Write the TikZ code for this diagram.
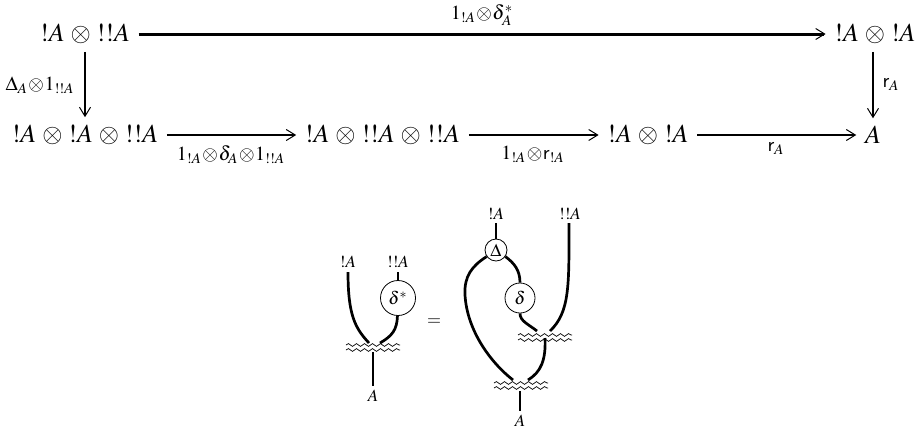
\documentclass[tikz,border=0pt]{standalone}
\usepackage{amsmath}
\usepackage{mathptmx}
\usetikzlibrary{arrows.meta,decorations.pathmorphing}
\newcommand{\tens}{\mathbin{\mkern1.6mu\otimes\mkern1.6mu}}
\tikzset{
  obj/.style={font=\fontsize{13}{15}\selectfont,inner xsep=4.2pt,inner ysep=3.8pt},
  lab/.style={font=\fontsize{10}{12}\selectfont,inner sep=0pt},
  wirelab/.style={font=\fontsize{8.5}{10}\selectfont,inner sep=0pt},
  arr/.style={-{Straight Barb[length=4.5pt,width=5.5pt,line width=0.5pt]},line width=0.8pt},
  wire/.style={line width=1.35pt},
  gate/.style={circle,draw,line width=0.4pt,fill=white,inner sep=0pt,font=\fontsize{9}{11}\selectfont},
  wave/.style={line width=0.35pt,decorate,decoration={snake,amplitude=0.7pt,segment length=4pt}}
}
\begin{document}
\begin{tikzpicture}[x=0.5pt,y=-0.5pt]
\useasboundingbox (0,0) rectangle (921,430);
% Top row of the square
\node[obj] (tl) at (85,34) {$!A\tens{!!A}$};
\node[obj] (tr) at (875,34) {$!A\tens{!A}$};
% Bottom row of the square
\node[obj] (bone) at (85,135) {$!A\tens{!A}\tens{!!A}$};
\node[obj] (btwo) at (382.5,135) {$!A\tens{!!A}\tens{!!A}$};
\node[obj] (bthree) at (648,135) {$!A\tens{!A}$};
\node[obj] (bfour) at (873,135) {$A$};
% Arrows
\draw[arr,line width=1.5pt] (tl) -- (tr);
\draw[arr] (tl) -- (bone);
\draw[arr] (bfour |- tr.south) -- (bfour);
\draw[arr] (bone) -- (btwo);
\draw[arr] (btwo) -- (bthree);
\draw[arr] (bthree) -- (bfour);
% Label the arrows
\node[lab] (ltop) at (482,15) {$1_{!A}\!\otimes\!\delta_A^*$};
\node[lab] (lleft) at (40,85) {$\Delta_A\!\otimes\!1_{!!A}$};
\node[lab] (lright) at (891,85) {$\mathsf{r}_A$};
\node[lab] (lone) at (231,155) {$1_{!A}\!\otimes\!\delta_A\!\otimes\!1_{!!A}$};
\node[lab] (ltwo) at (533,154) {$1_{!A}\!\otimes\!\mathsf{r}_{!A}$};
\node[lab] (lthree) at (776,149) {$\mathsf{r}_A$};
% Left string diagram
\node[wirelab] (pa) at (348,262) {$!A$};
\node[wirelab] (ppa) at (398,262) {$!!A$};
\node[gate,minimum size=17.5pt] (dstar) at (398,298) {$\delta^*$};
\node[wirelab] (oa) at (373,396) {$A$};
\draw[wave] (346,345) -- (400,345);
\draw[wave] (346,350) -- (400,350);
\coordinate (pat) at (348,272);
\coordinate (ppat) at (398,272);
\coordinate (ml) at (369,343);
\coordinate (mr) at (380,343);
\coordinate (mb) at (373,352);
\coordinate (oat) at (373,386);
\draw[wire] (pat) .. controls (348,315) and (355,328) .. (ml);
\draw[wire] (ppat) -- (dstar);
\draw[wire] (dstar) .. controls (397,330) and (392,336) .. (mr);
\draw[wire] (mb) -- (oat);
\node[lab,font=\fontsize{9}{11}\selectfont] (eq) at (434,322) {$=$};
% Right string diagram
\node[wirelab] (qa) at (496,214) {$!A$};
\node[wirelab] (qqa) at (570,214) {$!!A$};
\node[gate,minimum size=11pt] (cop) at (496,250) {$\Delta$};
\node[gate,minimum size=15pt] (del) at (520,298) {$\delta$};
\node[wirelab] (ra) at (520,421) {$A$};
\draw[wave] (518,335) -- (572,335);
\draw[wave] (518,340) -- (572,340);
\draw[wave] (494,383) -- (548,383);
\draw[wave] (494,388) -- (548,388);
\coordinate (qat) at (496,223);
\coordinate (qqat) at (569,223);
\coordinate (na) at (537,331);
\coordinate (nb) at (550,331);
\coordinate (nc) at (545,338);
\coordinate (nd) at (528,380);
\coordinate (ne) at (513,380);
\coordinate (nf) at (520,391);
\coordinate (ng) at (520,411);
\draw[wire] (qat) -- (cop);
\draw[wire] (cop.215) .. controls (472,266) and (464,276) .. (465,295) .. controls (467,330) and (490,362) .. (ne);
\draw[wire] (cop.-35) .. controls (514,263) and (520,270) .. (del);
\draw[wire] (del) .. controls (520,321) and (528,324) .. (na);
\draw[wire] (qqat) .. controls (569,285) and (570,312) .. (nb);
\draw[wire] (nc) .. controls (546,360) and (541,372) .. (nd);
\draw[wire] (nf) -- (ng);
\end{tikzpicture}
\end{document}
